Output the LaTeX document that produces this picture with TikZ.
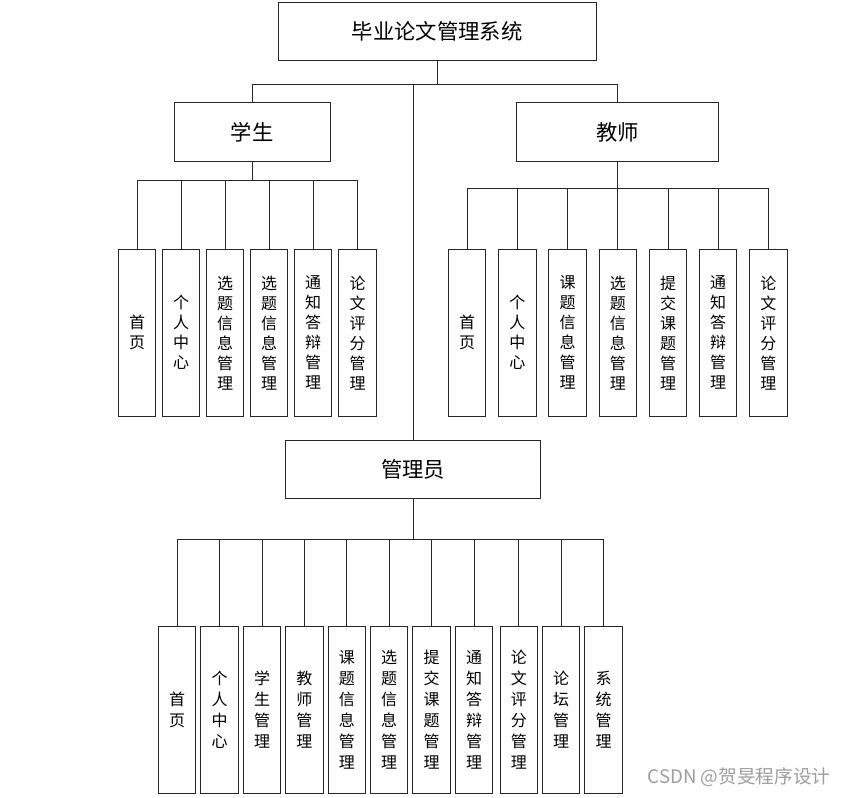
\documentclass[tikz,border=0pt]{standalone}
\usepackage{fontspec}
\newfontfamily\cjk{Noto Sans CJK SC}
\begin{document}
\begin{tikzpicture}[x=0.75pt,y=-0.75pt,
  box/.style={draw=black!85,line width=0.75pt,inner sep=0pt,align=center},
  topbox/.style={box,font=\cjk\fontsize{16pt}{18pt}\selectfont},
  leaf/.style={box,minimum width=28.1pt,minimum height=125.6pt,font=\cjk\fontsize{12pt}{15pt}\selectfont},
  aleaf/.style={box,minimum width=28.1pt,minimum height=124.7pt,font=\cjk\fontsize{12pt}{15.8pt}\selectfont},
  conn/.style={draw=black!85,line width=0.75pt}]
\useasboundingbox (0,0) rectangle (852,797);
\fill[white] (0,0) rectangle (852,797);
% top level
\node[topbox,minimum width=238.7pt,minimum height=43pt] (root) at (437.3,31.6) {毕业论文管理系统};
\node[topbox,minimum width=116.8pt,minimum height=43.9pt] (stu) at (252.2,132.25) {学生};
\node[topbox,minimum width=151.3pt,minimum height=43.9pt] (tea) at (617.85,132.25) {教师};
\node[topbox,minimum width=191.5pt,minimum height=44.2pt] (adm) at (413,469.5) {管理员};
\coordinate (rbus) at (0,84.5);
\coordinate (sbus) at (0,180.7);
\coordinate (tbus) at (0,188.7);
\coordinate (abus) at (0,539.5);
% student leaves
\node[leaf] (s1) at (137,332.75) {首\\页};
\node[leaf] (s2) at (181,332.75) {个\\人\\中\\心};
\node[leaf] (s3) at (225,332.75) {选\\题\\信\\息\\管\\理};
\node[leaf] (s4) at (269,332.75) {选\\题\\信\\息\\管\\理};
\node[leaf] (s5) at (313,332.75) {通\\知\\答\\辩\\管\\理};
\node[leaf] (s6) at (357.5,332.75) {论\\文\\评\\分\\管\\理};
% teacher leaves
\node[leaf] (t1) at (467,332.75) {首\\页};
\node[leaf] (t2) at (517.3,332.75) {个\\人\\中\\心};
\node[leaf] (t3) at (567.6,332.75) {课\\题\\信\\息\\管\\理};
\node[leaf] (t4) at (617.8,332.75) {选\\题\\信\\息\\管\\理};
\node[leaf] (t5) at (668,332.75) {提\\交\\课\\题\\管\\理};
\node[leaf] (t6) at (718.2,332.75) {通\\知\\答\\辩\\管\\理};
\node[leaf] (t7) at (768.4,332.75) {论\\文\\评\\分\\管\\理};
% admin leaves
\node[aleaf] (a1) at (177,709.85) {首\\页};
\node[aleaf] (a2) at (219.5,709.85) {个\\人\\中\\心};
\node[aleaf] (a3) at (262,709.85) {学\\生\\管\\理};
\node[aleaf] (a4) at (304.4,709.85) {教\\师\\管\\理};
\node[aleaf] (a5) at (346.75,709.85) {课\\题\\信\\息\\管\\理};
\node[aleaf] (a6) at (389,709.85) {选\\题\\信\\息\\管\\理};
\node[aleaf] (a7) at (431.5,709.85) {提\\交\\课\\题\\管\\理};
\node[aleaf] (a8) at (474,709.85) {通\\知\\答\\辩\\管\\理};
\node[aleaf] (a9) at (518.8,709.85) {论\\文\\评\\分\\管\\理};
\node[aleaf] (a10) at (561,709.85) {论\\坛\\管\\理};
\node[aleaf] (a11) at (603.5,709.85) {系\\统\\管\\理};
% connectors
\foreach \c in {stu,tea,adm}
  \draw[conn] (root.south) -- (root.south |- rbus) -| (\c.north);
\foreach \c in {s1,s2,s3,s4,s5,s6}
  \draw[conn] (stu.south) -- (stu.south |- sbus) -| (\c.north);
\foreach \c in {t1,t2,t3,t4,t5,t6,t7}
  \draw[conn] (tea.south) -- (tea.south |- tbus) -| (\c.north);
\foreach \c in {a1,a2,a3,a4,a5,a6,a7,a8,a9,a10,a11}
  \draw[conn] (adm.south) -- (adm.south |- abus) -| (\c.north);
% watermark
\node[text=black!38,font=\cjk\fontsize{14pt}{16pt}\selectfont,inner sep=0pt] (wm) at (739,777.5) {CSDN @贺旻程序设计};
\end{tikzpicture}
\end{document}
